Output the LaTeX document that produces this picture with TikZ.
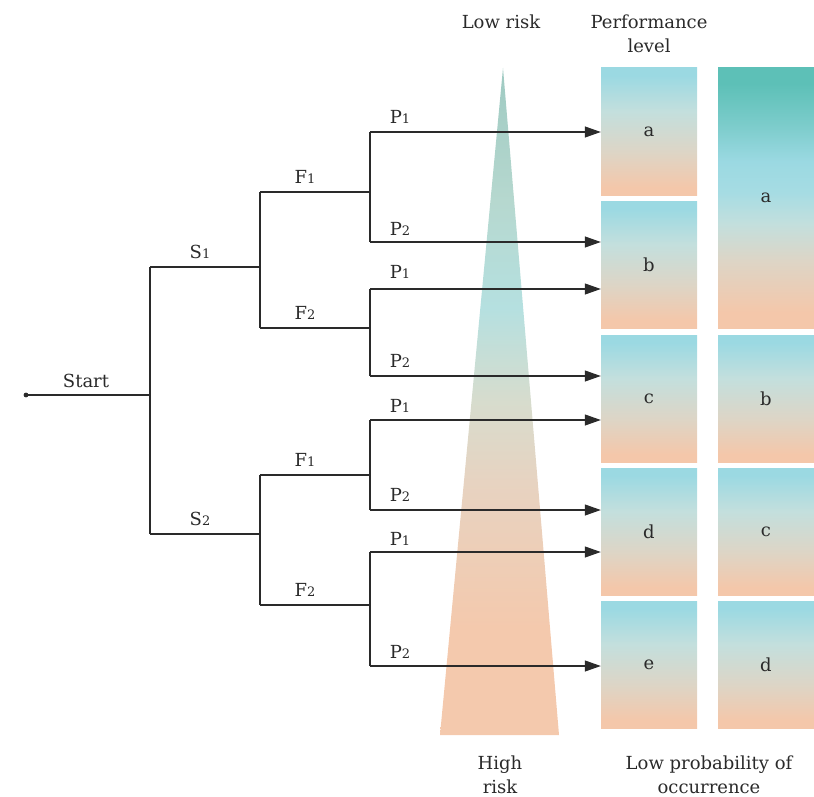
\documentclass[tikz,border=0pt]{standalone}
\usepackage{fontspec}
\setmainfont{DejaVu Serif}
\usetikzlibrary{arrows.meta}

\definecolor{ink}{HTML}{2A2A2A}
\definecolor{sky}{HTML}{9BD9E2}
\definecolor{mist}{HTML}{C3DFDD}
\definecolor{sand}{HTML}{DDD5C6}
\definecolor{peach}{HTML}{F4C7AA}
\definecolor{teal}{HTML}{5DC0B7}
\definecolor{lagoon}{HTML}{7CCCCB}
\definecolor{paleSky}{HTML}{A6DCE3}
\definecolor{trtop}{HTML}{9FCAC2}
\definecolor{trsage}{HTML}{B6D8CF}
\definecolor{trmid}{HTML}{B5E0E0}
\definecolor{trgrey}{HTML}{D7DCCD}
\definecolor{trlow}{HTML}{E7D3C1}
\definecolor{trbot}{HTML}{F4C9AD}

% shading of the small cells: sky at the top, peach at the bottom
\pgfdeclareverticalshading{cellshade}{100bp}{color(0bp)=(peach); color(28bp)=(peach); color(42bp)=(sand); color(58bp)=(mist); color(72bp)=(sky); color(100bp)=(sky)}
% shading of the tall cell: teal at the top
\pgfdeclareverticalshading{tallshade}{100bp}{color(0bp)=(peach); color(28bp)=(peach); color(38bp)=(sand); color(45bp)=(mist); color(51bp)=(paleSky); color(57bp)=(sky); color(64bp)=(lagoon); color(72bp)=(teal); color(100bp)=(teal)}
% shading of the risk wedge
\pgfdeclareverticalshading{wedgeshade}{100bp}{color(0bp)=(trbot); color(33bp)=(trbot); color(44bp)=(trlow); color(50bp)=(trgrey); color(57bp)=(trmid); color(65bp)=(trsage); color(75bp)=(trtop); color(100bp)=(trtop)}

% small figures for the branch indices
\newcommand{\osn}[1]{{\fontsize{13}{13}\selectfont #1}}

\tikzset{
  wire/.style={draw=ink, line width=1.15pt},
  arrowwire/.style={wire, -{Triangle[length=16pt,width=11pt]}},
  lbl/.style={text=ink, font=\fontsize{18}{24}\selectfont, inner sep=0pt},
  head/.style={lbl, align=center},
  cell/.style={lbl, shade, shading=cellshade, minimum width=96pt, minimum height=127pt},
  tallcell/.style={lbl, shade, shading=tallshade, minimum width=96pt, minimum height=260pt},
}

\begin{document}
\begin{tikzpicture}[x=1pt,y=-1pt]
\useasboundingbox (0,0) rectangle (814,797);

% risk wedge
\shade[shading=wedgeshade] (503,68) -- (559,735) -- (440,735) -- cycle;

% performance cells
\node[cell] (la) at (649,131.5) {a};
\node[cell] (lb) at (649,264.5) {b};
\node[cell] (lc) at (649,398.5) {c};
\node[cell] (ld) at (649,531.5) {d};
\node[cell] (le) at (649,664.5) {e};
\node[tallcell] (ra) at (766,198) {a};
\node[cell] (rb) at (766,398.5) {b};
\node[cell] (rc) at (766,531.5) {c};
\node[cell] (rd) at (766,664.5) {d};

% headings
\node[head] (hlow) at (501,22) {Low risk};
\node[head] (hperf) at (649,34) {Performance\\level};
\node[head] (hhigh) at (500,775) {High\\risk};
\node[head] (hprob) at (709,775) {Low probability of\\occurrence};

% tree junctions
\coordinate (start) at (26,395);
\coordinate (root) at (150,395);
\coordinate (s1) at (150,267);  \coordinate (s2) at (150,534);
\coordinate (g1) at (260,267);  \coordinate (g2) at (260,534);
\coordinate (f11) at (260,192); \coordinate (f12) at (260,328);
\coordinate (f21) at (260,475); \coordinate (f22) at (260,605);
\coordinate (k11) at (370,192); \coordinate (k12) at (370,328);
\coordinate (k21) at (370,475); \coordinate (k22) at (370,605);
\coordinate (p111) at (370,132); \coordinate (p112) at (370,242);
\coordinate (p121) at (370,289); \coordinate (p122) at (370,376);
\coordinate (p211) at (370,420); \coordinate (p212) at (370,510);
\coordinate (p221) at (370,552); \coordinate (p222) at (370,666);

\fill[ink] (start) circle (2.4pt);
\draw[wire] (start) -- (root);
\draw[wire] (s1) -- (s2);
\draw[wire] (s1) -- (g1);
\draw[wire] (s2) -- (g2);
\draw[wire] (f11) -- (f12);
\draw[wire] (f21) -- (f22);
\draw[wire] (f11) -- (k11);
\draw[wire] (f12) -- (k12);
\draw[wire] (f21) -- (k21);
\draw[wire] (f22) -- (k22);
\draw[wire] (p111) -- (p112);
\draw[wire] (p121) -- (p122);
\draw[wire] (p211) -- (p212);
\draw[wire] (p221) -- (p222);

\draw[arrowwire] (p111) -- (p111 -| la.west);
\draw[arrowwire] (p112) -- (p112 -| lb.west);
\draw[arrowwire] (p121) -- (p121 -| lb.west);
\draw[arrowwire] (p122) -- (p122 -| lc.west);
\draw[arrowwire] (p211) -- (p211 -| lc.west);
\draw[arrowwire] (p212) -- (p212 -| ld.west);
\draw[arrowwire] (p221) -- (p221 -| ld.west);
\draw[arrowwire] (p222) -- (p222 -| le.west);

% branch labels
\node[lbl] (tstart) at (86,381) {Start};
\node[lbl] (ts1) at (200,252) {S\osn{1}};
\node[lbl] (ts2) at (200,519) {S\osn{2}};
\node[lbl] (tf11) at (305,177) {F\osn{1}};
\node[lbl] (tf12) at (305,313) {F\osn{2}};
\node[lbl] (tf21) at (305,460) {F\osn{1}};
\node[lbl] (tf22) at (305,590) {F\osn{2}};
\node[lbl] (tp111) at (400,117) {P\osn{1}};
\node[lbl] (tp112) at (400,229) {P\osn{2}};
\node[lbl] (tp121) at (400,272) {P\osn{1}};
\node[lbl] (tp122) at (400,361) {P\osn{2}};
\node[lbl] (tp211) at (400,406) {P\osn{1}};
\node[lbl] (tp212) at (400,495) {P\osn{2}};
\node[lbl] (tp221) at (400,539) {P\osn{1}};
\node[lbl] (tp222) at (400,652) {P\osn{2}};
\end{tikzpicture}
\end{document}
